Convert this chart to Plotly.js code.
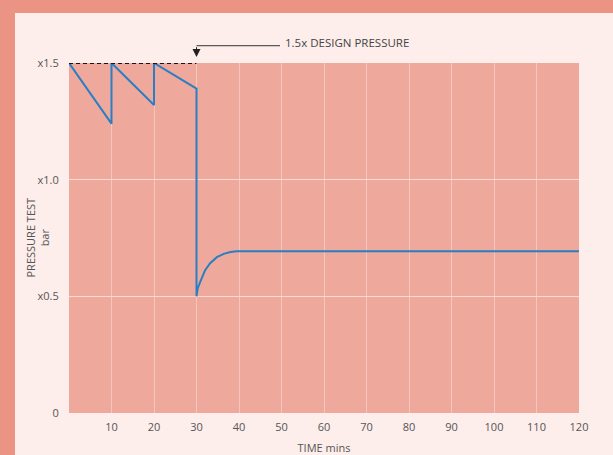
<!DOCTYPE html>
<html>
<head>
<meta charset="utf-8">
<script src="https://cdn.plot.ly/plotly-3.0.1.min.js"></script>
<style>
  html, body { margin: 0; padding: 0; width: 613px; height: 455px; overflow: hidden; background: #EC9484; }
  #chart { position: absolute; left: 15px; top: 13px; width: 598px; height: 442px; }
</style>
</head>
<body>
<div id="chart"></div>
<script>
// Data
const timeMins = [0, 10, 10, 20, 20, 30, 30, 30.3, 30.9, 31.5, 32, 33.2, 34.8, 36.4, 38, 39.5, 120];
const pressure = [1.5, 1.24, 1.5, 1.32, 1.5, 1.39, 0.5, 0.535, 0.563, 0.59, 0.611, 0.642, 0.668, 0.682, 0.69, 0.693, 0.693];

const designTime = [0, 30];
const designPressure = [1.5, 1.5];

const xTickVals = [10, 20, 30, 40, 50, 60, 70, 80, 90, 100, 110, 120];
const xTickText = ['10', '20', '30', '40', '50', '60', '70', '80', '90', '100', '110', '120'];
const yTickVals = [0, 0.5, 1.0, 1.5];
const yTickText = ['0', 'x0.5', 'x1.0', 'x1.5'];

const annotationText = '1.5x DESIGN PRESSURE';
const yTitleText = 'PRESSURE TEST<br>bar';
const xTitleText = 'TIME mins';

const font = '"Open Sans", "Liberation Sans", sans-serif';
const textColor = '#555555';

const traces = [
  {
    x: timeMins, y: pressure, type: 'scatter', mode: 'lines',
    line: { color: '#2A7EC4', width: 2 },
    cliponaxis: false, hoverinfo: 'skip'
  },
  {
    x: designTime, y: designPressure, type: 'scatter', mode: 'lines',
    line: { color: '#151515', width: 1.8, dash: '4px,3px' },
    cliponaxis: false, hoverinfo: 'skip'
  }
];

const layout = {
  width: 598, height: 442,
  margin: { l: 54, r: 34, t: 50, b: 42 },
  paper_bgcolor: '#FDEDEB',
  plot_bgcolor: '#EEA99C',
  showlegend: false,
  font: { family: font, size: 11, color: textColor },
  xaxis: {
    range: [0, 120], fixedrange: true,
    tickmode: 'array', tickvals: xTickVals, ticktext: xTickText,
    showgrid: true, gridcolor: '#F4C6BD', gridwidth: 1,
    zeroline: false, showline: false,
    ticks: 'outside', ticklen: 4, tickcolor: 'rgba(0,0,0,0)',
    tickfont: { family: font, size: 11, color: textColor },
    title: { text: xTitleText, font: { family: font, size: 11, color: textColor }, standoff: 12 }
  },
  yaxis: {
    range: [0, 1.5], fixedrange: true,
    tickmode: 'array', tickvals: yTickVals, ticktext: yTickText,
    showgrid: true, gridcolor: '#F8D9D3', gridwidth: 1,
    zeroline: false, showline: false,
    ticks: 'outside', ticklen: 7, tickcolor: 'rgba(0,0,0,0)',
    tickfont: { family: font, size: 11, color: textColor }
  },
  shapes: [
    {
      type: 'line', xref: 'paper', yref: 'paper',
      x0: 0.25, x1: 0.4137, y0: 1.0494, y1: 1.0494,
      line: { color: '#333333', width: 1 }
    }
  ],
  annotations: [
    {
      x: 30, y: 1.5, xref: 'x', yref: 'y',
      text: '', showarrow: true, ax: 0, ay: -17.3,
      arrowhead: 2, arrowsize: 1.6, arrowwidth: 1, arrowcolor: '#222222', standoff: 6
    },
    {
      x: 0.4196, y: 1.0586, xref: 'paper', yref: 'paper',
      xanchor: 'left', yanchor: 'middle', showarrow: false,
      text: annotationText, font: { family: font, size: 11.5, color: '#444444' }
    },
    {
      x: -0.0637, y: 0.5, xref: 'paper', yref: 'paper',
      xanchor: 'center', yanchor: 'middle', showarrow: false, textangle: -90,
      text: yTitleText, font: { family: font, size: 11, color: textColor }
    }
  ]
};

Plotly.newPlot('chart', traces, layout, { displayModeBar: false, staticPlot: true });
</script>
</body>
</html>
